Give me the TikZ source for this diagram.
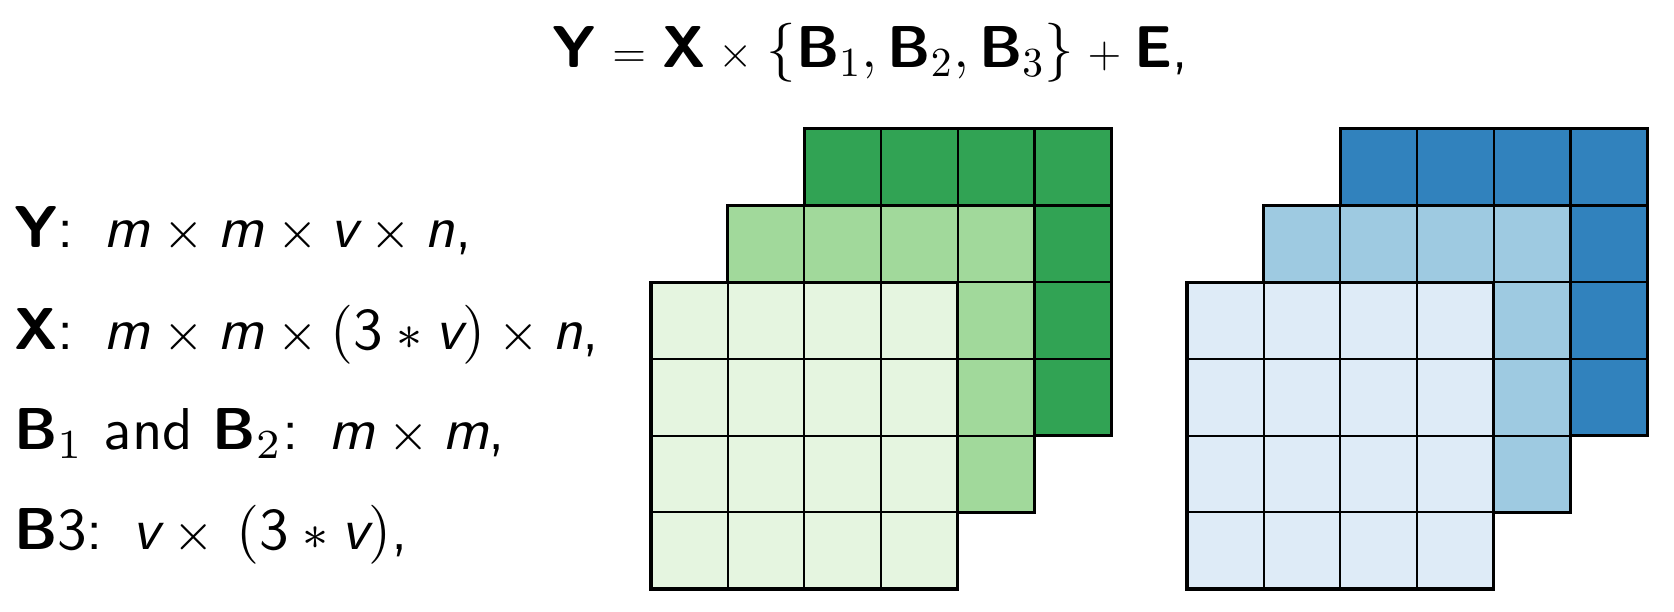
\RequirePackage{fix-cm}
\documentclass[tikz,border=0pt]{standalone}
\usepackage{amsmath}

\definecolor{gdark}{HTML}{31A354}
\definecolor{gmid}{HTML}{A1D99B}
\definecolor{glight}{HTML}{E5F5E0}
\definecolor{bdark}{HTML}{3182BD}
\definecolor{bmid}{HTML}{9ECAE1}
\definecolor{blight}{HTML}{DEEBF7}

\newcommand{\boldsf}[1]{\text{\bfseries #1}}
\newcommand{\itsf}[1]{\text{\itshape #1}}
% smaller operator glyphs, as in the slide
\newcommand{\opsym}[2][12.6]{\mathbin{\text{\fontsize{#1}{15}\selectfont$#2$}}}
\newcommand{\relsym}[1]{\mathrel{\text{\fontsize{12.6}{15}\selectfont$#1$}}}

\tikzset{
  eqtext/.style={font=\sffamily\fontsize{16.8}{20}\selectfont, inner sep=0pt},
  dimtext/.style={font=\sffamily\fontsize{10}{12}\selectfont, scale=1.68, inner sep=0pt},
  gridline/.style={line width=0.6pt},
  layeredge/.style={line width=0.9pt},
}

\begin{document}
\begin{tikzpicture}
\useasboundingbox (0,0) rectangle (16.74,6.12);

\node[eqtext, anchor=base west] (model) at (5.52,5.44)
  {$\boldsf{Y} \relsym{=} \boldsf{X} \opsym{\times} \{\boldsf{B}_1, \boldsf{B}_2, \boldsf{B}_3\} \opsym{+} \boldsf{E}$,};

\node[dimtext, anchor=base west] (ydim) at (0.13,3.64)
  {$\boldsf{Y}$:\enspace$\itsf{m}\opsym[8.3]{\times}\itsf{m}\opsym[8.3]{\times}\itsf{v}\opsym[8.3]{\times}\itsf{n}$,};
\node[dimtext, anchor=base west] (xdim) at (0.13,2.62)
  {$\boldsf{X}$:\enspace$\itsf{m}\opsym[8.3]{\times}\itsf{m}\opsym[8.3]{\times}(\text{3}\opsym[8.3]{\ast}\itsf{v})\opsym[8.3]{\times}\itsf{n}$,};
\node[dimtext, anchor=base west] (bdim) at (0.13,1.62)
  {$\boldsf{B}_1$ and $\boldsf{B}_2$:\enspace$\itsf{m}\opsym[8.3]{\times}\itsf{m}$,};
\node[dimtext, anchor=base west] (bthree) at (0.13,0.62)
  {$\boldsf{B}$3:\enspace$\itsf{v}\opsym[8.3]{\times}\,(\text{3}\opsym[8.3]{\ast}\itsf{v})$,};

% green stack
\begin{scope}[shift={(6.51,0.23)}, scale=0.767]
\fill[gdark] (2,2) rectangle (6,6);
\draw[gridline] (2,2) grid (6,6);
\draw[layeredge] (2,2) rectangle (6,6);
\fill[gmid] (1,1) rectangle (5,5);
\draw[gridline] (1,1) grid (5,5);
\draw[layeredge] (1,1) rectangle (5,5);
\fill[glight] (0,0) rectangle (4,4);
\draw[gridline] (0,0) grid (4,4);
\draw[layeredge] (0,0) rectangle (4,4);
\end{scope}

% blue stack
\begin{scope}[shift={(11.87,0.23)}, scale=0.767]
\fill[bdark] (2,2) rectangle (6,6);
\draw[gridline] (2,2) grid (6,6);
\draw[layeredge] (2,2) rectangle (6,6);
\fill[bmid] (1,1) rectangle (5,5);
\draw[gridline] (1,1) grid (5,5);
\draw[layeredge] (1,1) rectangle (5,5);
\fill[blight] (0,0) rectangle (4,4);
\draw[gridline] (0,0) grid (4,4);
\draw[layeredge] (0,0) rectangle (4,4);
\end{scope}
\end{tikzpicture}
\end{document}
